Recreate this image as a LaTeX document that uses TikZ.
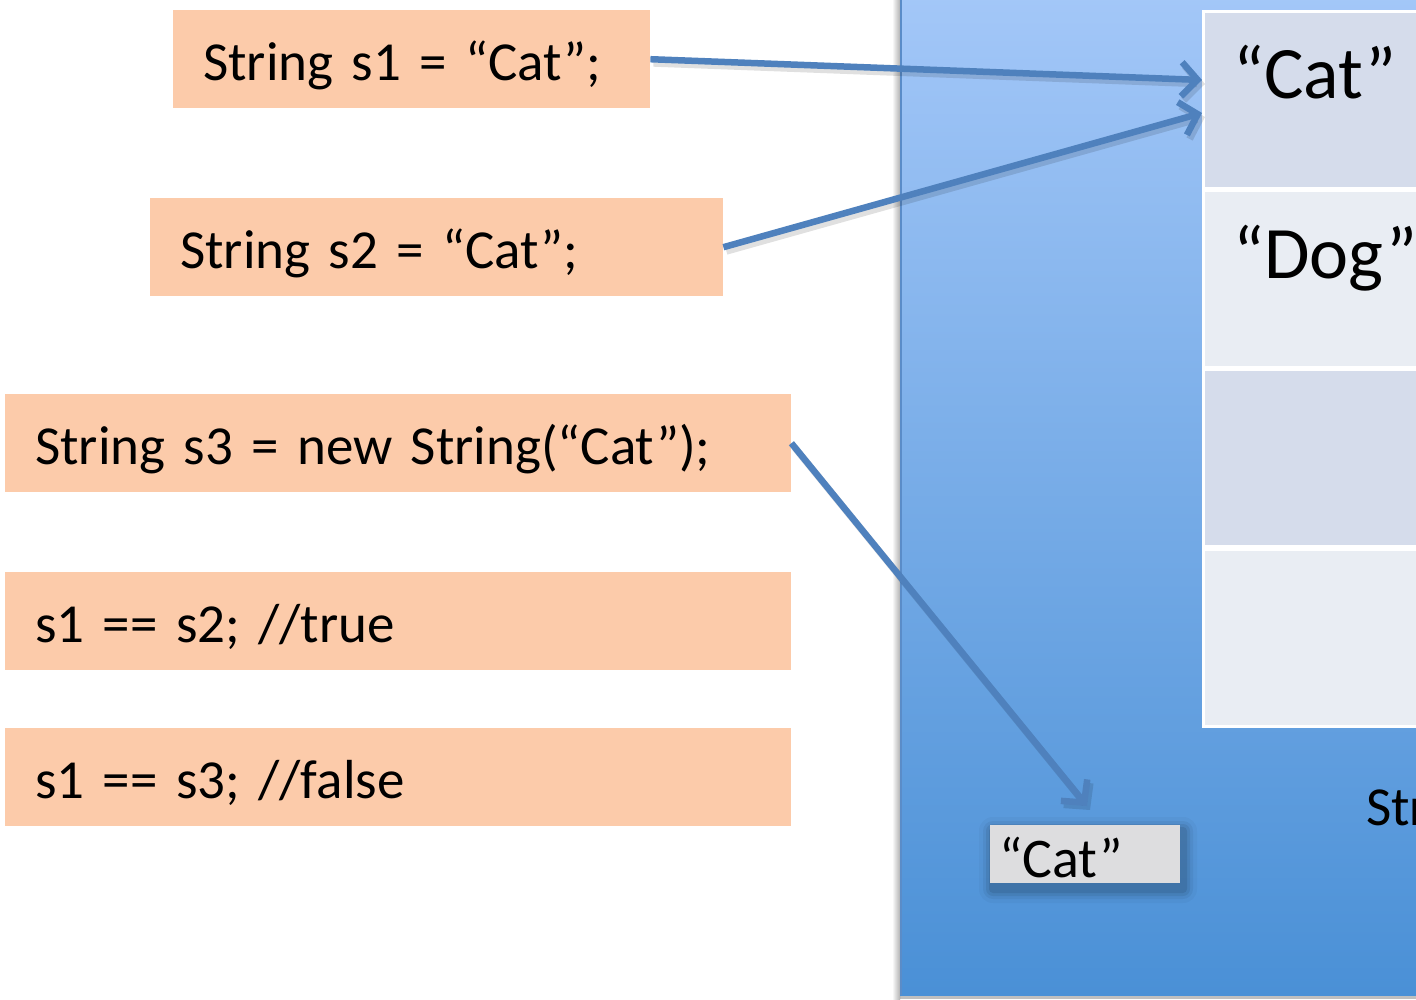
\documentclass[tikz,border=0pt]{standalone}
\usepackage{fontspec}
\setmainfont{Carlito}
\usetikzlibrary{arrows.meta,calc}
\definecolor{peach}{RGB}{252,203,170}
\definecolor{paneltop}{RGB}{163,199,248}
\definecolor{panelbot}{RGB}{74,144,214}
\definecolor{paneledge}{RGB}{90,140,200}
\definecolor{rowA}{RGB}{213,220,235}
\definecolor{rowB}{RGB}{233,237,243}
\definecolor{arrowblue}{RGB}{79,129,189}
\definecolor{cellgray}{RGB}{221,221,223}
\begin{document}
\begin{tikzpicture}[x=1pt,y=-1pt,
  codebox/.style={fill=peach, draw=none, anchor=north west, minimum height=98pt,
    inner xsep=30pt, inner ysep=0pt, text height=42pt, text depth=0pt, align=left,
    font=\fontsize{55}{60}\selectfont},
  cell/.style={draw=white, line width=3pt, anchor=north west, minimum width=240pt,
    minimum height=177pt},
  celltext/.style={anchor=base west, inner sep=0pt, font=\fontsize{74}{84}\selectfont},
  arr/.style={draw=arrowblue, line width=6.5pt, -{Straight Barb[length=16pt,width=34pt]}},
  arrshadow/.style={draw=black, opacity=0.12, line width=7pt, -{Straight Barb[length=16pt,width=34pt]}},
]
\useasboundingbox (0,0) rectangle (1416,999);
\clip (0,0) rectangle (1416,999);
\fill[white] (0,0) rectangle (1416,999);

% heap panel with shadow
\fill[left color=white, right color=black!30] (892,-5) rectangle (900,999);
\fill[black, opacity=0.25] (900,995) rectangle (1420,999);
\node[anchor=north west, minimum width=520pt, minimum height=1000pt, inner sep=0pt,
  top color=paneltop, bottom color=panelbot] (heap) at (900,-5) {};
\draw[paneledge, line width=1.5pt] (901,-5) -- (901,995);

% string pool table
\node[cell, fill=rowA] (c1) at (1202,10) {};
\node[cell, fill=rowB] (c2) at (1202,189) {};
\node[cell, fill=rowA] (c3) at (1202,368) {};
\node[cell, fill=rowB] (c4) at (1202,548) {};
\node[celltext] (tcat) at (1233,98) {“Cat”};
\node[celltext] (tdog) at (1233,278) {“Dog”};
\node[anchor=base west, inner sep=0pt, font=\fontsize{55}{60}\selectfont] (pool) at (1366,825) {Str};

% heap object with soft shadow
\foreach \s/\o in {14/0.03,10/0.05,7/0.07,4/0.09}{
  \fill[black, opacity=\o, rounded corners=\s pt] (990-\s+3,825-\s+6) rectangle (1180+\s+3,883+\s+6);
}
\node[anchor=north west, fill=cellgray, minimum width=190pt, minimum height=58pt,
  inner sep=0pt] (obj) at (990,825) {};
\node[anchor=base west, inner sep=0pt, font=\fontsize{56}{62}\selectfont] (objtext) at (999,877) {“Cat”};

% code boxes
\node[codebox, text width=417pt] (b1) at (173,10) {String s1 = “Cat”;};
\node[codebox, text width=513pt] (b2) at (150,198) {String s2 = “Cat”;};
\node[codebox, text width=726pt] (b3) at (5,394) {String s3 = new String(“Cat”);};
\node[codebox, text width=726pt] (b4) at (5,572) {s1 == s2; //true};
\node[codebox, text width=726pt] (b5) at (5,728) {s1 == s3; //false};

% arrows
\coordinate (a1end) at ([yshift=20pt]c1.west);
\coordinate (a2end) at ([yshift=-13pt]c1.west);
\coordinate (a3end) at (1087,806);
\draw[arrshadow] ([shift={(3pt,-4pt)}]b1.east) -- ([shift={(3pt,-4pt)}]a1end);
\draw[arrshadow] ([shift={(3pt,-4pt)}]b2.east) -- ([shift={(3pt,-4pt)}]a2end);
\draw[arrshadow] ([shift={(3pt,-4pt)}]b3.east) -- ([shift={(3pt,-4pt)}]a3end);
\draw[arr] (b1.east) -- (a1end);
\draw[arr] (b2.east) -- (a2end);
\draw[arr] (b3.east) -- (a3end);
\end{tikzpicture}
\end{document}
